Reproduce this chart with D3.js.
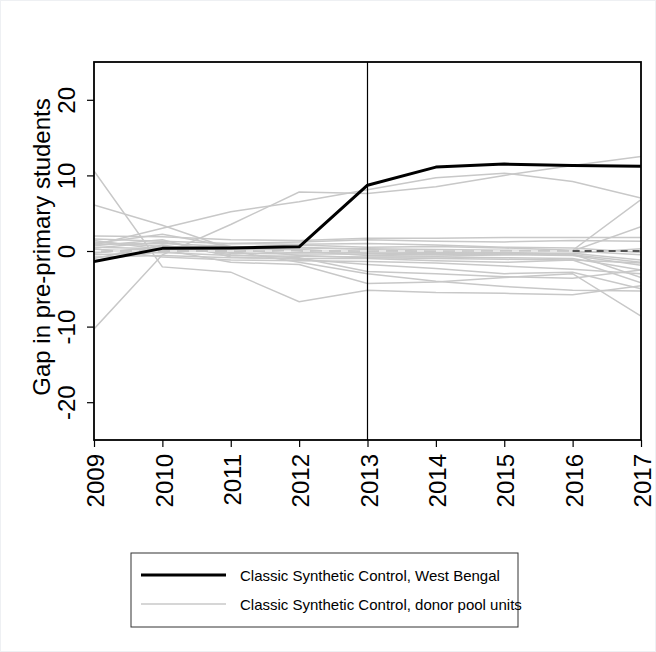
<!DOCTYPE html>
<html><head><meta charset="utf-8">
<script src="https://cdn.jsdelivr.net/npm/d3@7"></script>
<style>body{margin:0;background:#fff}svg{display:block}text{font-family:"Liberation Sans",Arial,sans-serif;fill:#000}</style>
</head><body><svg id="c" width="656" height="652"></svg>
<script>
const years = [2009,2010,2011,2012,2013,2014,2015,2016,2017];
const yTicks = [-20,-10,0,10,20];
const treatedName = "Classic Synthetic Control, West Bengal";
const donorName = "Classic Synthetic Control, donor pool units";
const yTitle = "Gap in pre-primary students";
const treatmentYear = 2013;
const westBengal = [-1.4, 0.35, 0.4, 0.55, 8.7, 11.1, 11.5, 11.3, 11.2];
const donors = [
 [-10.3,-0.5,3.5,7.8,7.6,8.5,10.0,11.3,12.5],
 [0.8,3.0,5.2,6.5,8.1,9.7,10.3,9.2,7.0],
 [10.6,-2.1,-2.8,-6.7,-5.2,-5.5,-5.6,-5.8,-4.6],
 [6.1,3.4,0.3,-0.6,-0.9,-1.0,-1.1,-1.2,-1.6],
 [2.0,1.9,1.5,1.4,1.7,1.7,1.8,1.8,1.8],
 [1.6,1.3,1.0,1.2,1.5,1.3,1.2,1.4,1.3],
 [1.2,0.6,0.5,0.8,0.5,0.6,0.4,0.1,6.8],
 [0.9,1.0,0.6,0.4,0.3,0.2,0.1,0.0,3.2],
 [0.5,0.3,0.2,0.1,0.0,0.0,0.0,0.0,-0.5],
 [0.2,-0.1,0.0,-0.2,-0.1,-0.2,-0.3,-0.3,-1.2],
 [-0.2,0.4,-0.3,-0.4,-0.4,-0.5,-0.5,-0.6,-1.9],
 [-0.5,-0.2,-0.6,-0.7,-0.8,-0.8,-0.9,-1.0,-2.5],
 [-0.8,-0.6,-0.9,-1.0,-1.0,-1.3,-1.5,-1.2,-4.2],
 [0.3,-0.8,-1.2,-1.3,-1.4,-1.6,-2.0,-2.4,-3.0],
 [-1.0,0.8,-0.5,-0.9,-2.7,-3.0,-3.4,-3.6,-2.5],
 [1.4,0.2,-1.5,-1.8,-4.3,-4.1,-3.5,-3.0,-8.6],
 [-0.3,0.6,0.0,-1.5,-3.0,-4.0,-4.7,-5.2,-5.3],
 [0.7,1.5,-0.8,-1.1,-1.8,-2.3,-3.0,-2.8,-5.0],
 [1.0,2.2,0.6,0.0,-0.6,-0.7,-0.5,-0.3,0.3],
 [-0.1,0.1,1.0,0.9,1.0,0.8,0.5,0.4,-0.2],
 [0.4,1.2,-0.2,0.2,-0.3,-0.3,-0.4,-0.5,-1.5],
 [-1.3,0.0,0.3,0.5,0.2,-0.1,-0.2,-0.4,-3.5]
];
const zeroLineYears = [2009, 2016, 2017];

const svg = d3.select("#c");
const L = 94, R = 641, T = 62, B = 440;
const x = d3.scaleLinear().domain([2009,2017]).range([L,R]);
const y = d3.scaleLinear().domain([-25,25]).range([B,T]);
const fmt = d => String(d); // keep ASCII hyphen-minus like the original

svg.append("rect").attr("x",0.5).attr("y",0.5).attr("width",655).attr("height",651)
  .attr("fill","none").attr("stroke","#eef0f3");

const line = d3.line().x((d,i)=>x(years[i])).y(d=>y(d));

const g = svg.append("g");
g.append("defs").append("clipPath").attr("id","clip").append("rect")
  .attr("x",L).attr("y",T).attr("width",R-L).attr("height",B-T);
const plot = g.append("g").attr("clip-path","url(#clip)");

plot.selectAll("path.donor").data(donors).enter().append("path")
  .attr("class","donor").attr("d",line).attr("fill","none")
  .attr("stroke","#c8c8c8").attr("stroke-width",1.5);

plot.append("line").attr("x1",x(zeroLineYears[0])).attr("x2",x(zeroLineYears[1]))
  .attr("y1",y(0)).attr("y2",y(0)).attr("stroke","#fff").attr("stroke-opacity",0.7)
  .attr("stroke-width",1.5).attr("stroke-dasharray","7,12");
plot.append("line").attr("x1",x(zeroLineYears[1])).attr("x2",x(zeroLineYears[2]))
  .attr("y1",y(0)).attr("y2",y(0)).attr("stroke","#555")
  .attr("stroke-width",1.8).attr("stroke-dasharray","7,5");

g.append("line").attr("x1",x(treatmentYear)).attr("x2",x(treatmentYear))
  .attr("y1",T).attr("y2",B).attr("stroke","#000").attr("stroke-width",1.2);

plot.append("path").datum(westBengal).attr("d",line).attr("fill","none")
  .attr("stroke","#000").attr("stroke-width",3).attr("stroke-linejoin","round");

g.append("rect").attr("x",L).attr("y",T).attr("width",R-L).attr("height",B-T)
  .attr("fill","none").attr("stroke","#000").attr("stroke-width",1.8);

const ya = g.append("g").attr("transform",`translate(${L},0)`)
  .call(d3.axisLeft(y).tickValues(yTicks).tickSize(7).tickFormat(fmt));
ya.select(".domain").remove();
ya.selectAll(".tick line").attr("stroke","#000").attr("stroke-width",1.2);
ya.selectAll(".tick text").attr("font-size",24).attr("text-anchor","middle")
  .attr("x",0).attr("dy",0).attr("transform","translate(-19,0) rotate(-90)")
  .attr("font-family","Liberation Sans, Arial, sans-serif");

const xa = g.append("g").attr("transform",`translate(0,${B})`)
  .call(d3.axisBottom(x).tickValues(years).tickSize(7).tickFormat(fmt));
xa.select(".domain").remove();
xa.selectAll(".tick line").attr("stroke","#000").attr("stroke-width",1.2);
xa.selectAll(".tick text").attr("font-size",24).attr("text-anchor","end")
  .attr("x",0).attr("y",0).attr("dy","0.36em").attr("transform","translate(1,14) rotate(-90)")
  .attr("font-family","Liberation Sans, Arial, sans-serif");

svg.append("text").attr("transform",`translate(50,247) rotate(-90)`)
  .attr("text-anchor","middle").attr("font-size",24).text(yTitle);

const lg = svg.append("g");
lg.append("rect").attr("x",131).attr("y",553).attr("width",387).attr("height",74)
  .attr("fill","#fff").attr("stroke","#333").attr("stroke-width",1);
const items = [{name:treatedName,c:"#000",w:3},{name:donorName,c:"#c8c8c8",w:1.5}];
items.forEach((it,i)=>{
  const yy = 575 + i*29;
  lg.append("line").attr("x1",141).attr("x2",226).attr("y1",yy).attr("y2",yy)
    .attr("stroke",it.c).attr("stroke-width",it.w);
  lg.append("text").attr("x",240).attr("y",yy+5.5).attr("font-size",15).text(it.name);
});
</script></body></html>
